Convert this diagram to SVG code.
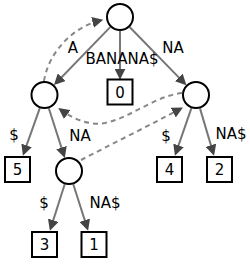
<svg xmlns="http://www.w3.org/2000/svg" width="250" height="265" viewBox="0 0 250 265">
<style>
.node circle{fill:#fff;stroke:#000;stroke-width:2}
.node rect{fill:#fff;stroke:#000;stroke-width:2}
text{font-family:"DejaVu Sans",sans-serif;font-size:15px;fill:#000;text-anchor:middle}
.edge{stroke:#777;stroke-width:2;fill:none;marker-end:url(#ah)}
.link{stroke:#888;stroke-width:2;fill:none;stroke-dasharray:5,4;marker-end:url(#ah)}
</style>
<defs>
<marker id="ah" markerUnits="userSpaceOnUse" markerWidth="11" markerHeight="11" refX="7" refY="5" orient="auto" viewBox="0 0 10 10">
<path d="M0,0 L10,5 L0,10 z" fill="#444" stroke="none"/>
</marker>
</defs>
<g id="connectors">
<line class="edge" x1="110.2" y1="27.1" x2="56.3" y2="82.7"/>
<line class="edge" x1="120" y1="31" x2="120" y2="76.5"/>
<line class="edge" x1="129.6" y1="27.0" x2="184.1" y2="82.9"/>
<line class="edge" x1="39.8" y1="108.2" x2="24.0" y2="152.7"/>
<line class="edge" x1="48.8" y1="108.3" x2="63.8" y2="154.9"/>
<line class="edge" x1="191.4" y1="108.2" x2="176.0" y2="152.7"/>
<line class="edge" x1="200" y1="108.4" x2="213.1" y2="152.6"/>
<line class="edge" x1="64.7" y1="184.3" x2="50.9" y2="227.6"/>
<line class="edge" x1="73.3" y1="184.3" x2="87.1" y2="227.6"/>
<path class="link" d="M44,81 C48,55 70,28 100,20.5"/>
<path class="link" d="M182,93 C155,96 130,118 105,123 C88,126 72,118 61,110"/>
<path class="link" d="M81,160 C110,145 150,125 180,109"/>
<text x="73" y="53">A</text>
<text x="122" y="63.5">BANANA$</text>
<text x="173" y="53">NA</text>
<text x="14" y="140">$</text>
<text x="80" y="140.5">NA</text>
<text x="166" y="140.5">$</text>
<text x="231" y="139">NA$</text>
<text x="44" y="208">$</text>
<text x="105" y="208">NA$</text>
</g>
<g id="n_root" class="node"><circle cx="120" cy="17" r="13"/></g>
<g id="n_A" class="node"><circle cx="44.5" cy="95" r="13"/></g>
<g id="n_NA" class="node"><circle cx="196" cy="95" r="13"/></g>
<g id="n_ANA" class="node"><circle cx="69" cy="171" r="13"/></g>
<g id="leaf0" class="node"><rect x="107.5" y="79.5" width="25" height="25"/><text x="120" y="97.5">0</text></g>
<g id="leaf5" class="node"><rect x="5" y="157" width="25" height="25"/><text x="17.5" y="175">5</text></g>
<g id="leaf4" class="node"><rect x="157" y="157" width="25" height="25"/><text x="169.5" y="175">4</text></g>
<g id="leaf2" class="node"><rect x="207" y="157" width="25" height="25"/><text x="219.5" y="175">2</text></g>
<g id="leaf3" class="node"><rect x="32" y="232" width="25" height="25"/><text x="44.5" y="250">3</text></g>
<g id="leaf1" class="node"><rect x="81.5" y="232" width="25" height="25"/><text x="94" y="250">1</text></g>
</svg>
